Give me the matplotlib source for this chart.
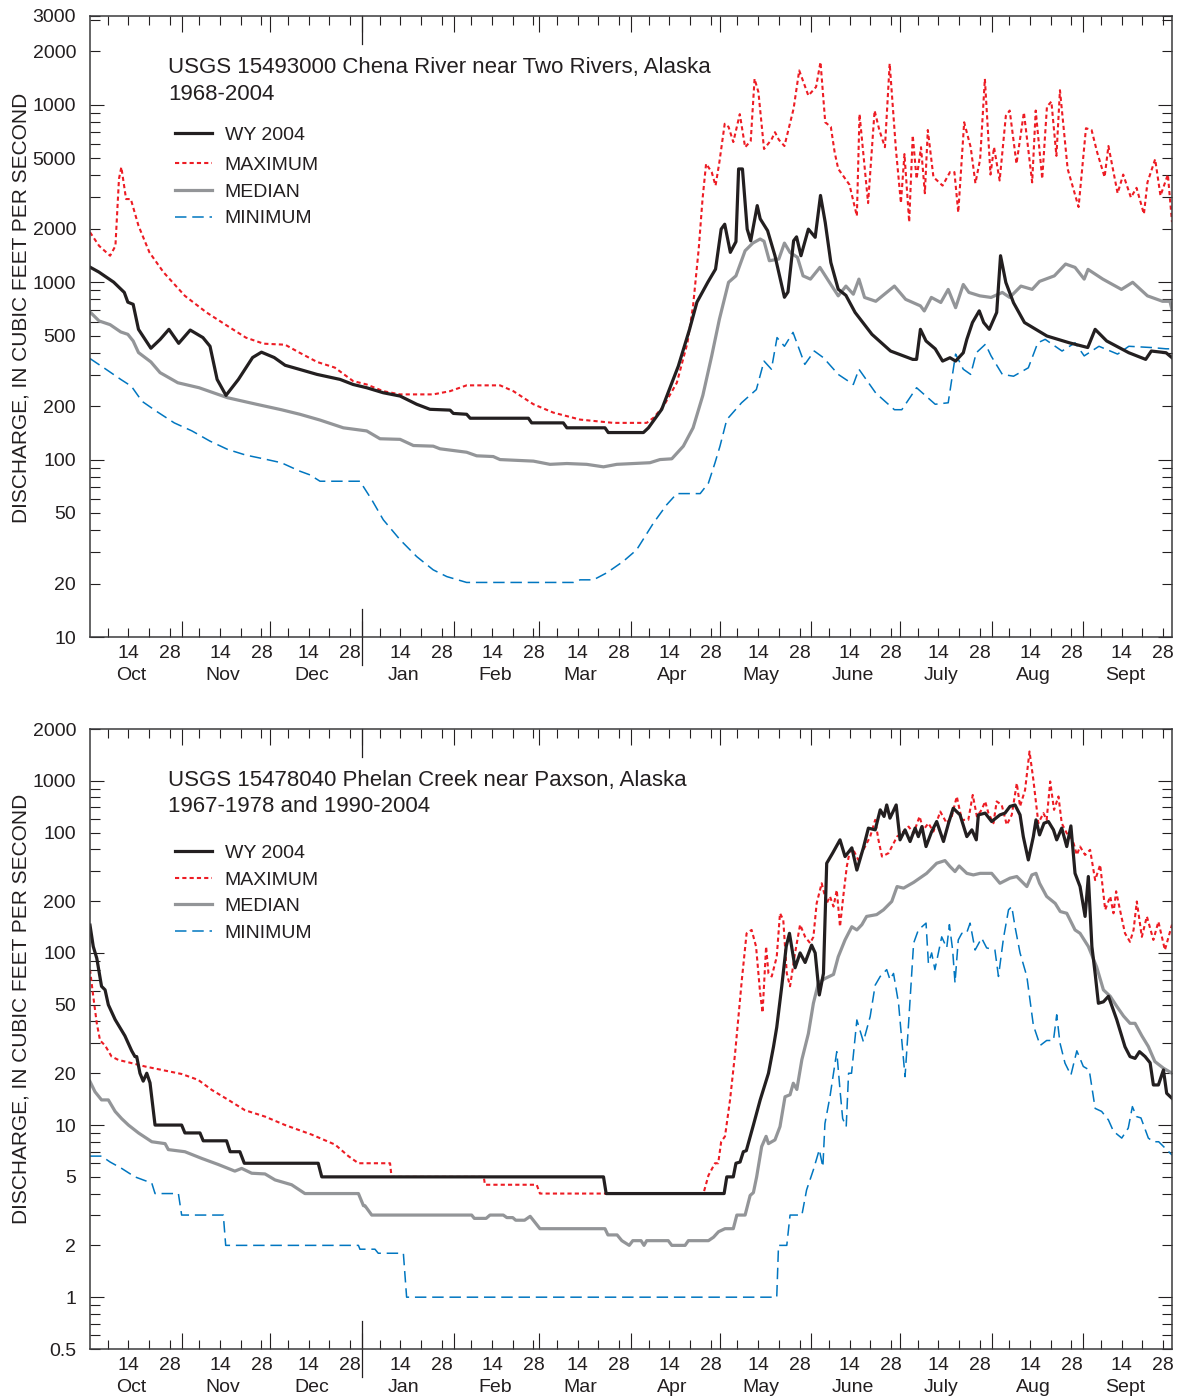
import matplotlib.pyplot as plt
from matplotlib.lines import Line2D
from matplotlib.ticker import FixedLocator, FuncFormatter

plt.rcParams['font.family'] = ['Liberation Sans', 'DejaVu Sans']

# days are counted from 1 Oct 2003 (water year 2004, 366 days)
month_names = ['Oct', 'Nov', 'Dec', 'Jan', 'Feb', 'Mar', 'Apr', 'May', 'June', 'July', 'Aug', 'Sept']
month_start = [0, 31, 61, 92, 123, 152, 183, 213, 244, 274, 305, 336]

# ---- USGS 15493000 Chena River near Two Rivers
chena_wy_day = [0, 3, 8, 11.6, 12.8, 14.6, 16.4, 20.6, 23.7, 26.7, 30, 33.9, 38.2, 40.6, 43, 46, 50.2, 55, 58,
                62.3, 66, 70.7, 76.8, 84.6, 89, 93.6, 99.2, 104.9, 110.5, 115, 121.8, 122.9, 127.4, 128.6, 148.3,
                149.4, 160.1, 161.3, 174.2, 175.3, 187.2, 188.9, 193.4, 196.8, 199, 202.8, 205.3, 209, 211.6, 213.5,
                214.7, 216.6, 218.5, 219.4, 220.7, 222.3, 223.5, 225.7, 226.7, 229.2, 231.7, 234.9, 236.1, 238, 239,
                240.5, 243, 245.3, 247.1, 248.7, 250.6, 253.1, 255.7, 258.8, 264.5, 270.8, 278.3, 279.6, 280.9,
                282.8, 285.9, 288.4, 290.9, 292.8, 295.4, 296.6, 298.5, 300.8, 302.3, 304.2, 306.7, 308, 309.8,
                312.4, 316.1, 323.7, 331.3, 337.5, 340, 343.9, 351.4, 357.1, 359, 364, 366]
chena_wy_cfs = [1215, 1140, 1000, 875, 771, 750, 542, 424, 475, 542, 452, 537, 487, 435, 283, 230, 283, 376, 403,
                376, 340, 323, 302, 283, 265, 254, 238, 228, 205, 192, 190, 182, 180, 171, 171,
                161, 161, 151, 151, 142, 142, 151, 192, 270, 336, 542, 771, 1000, 1184, 1990,
                2120, 1472, 1690, 4345, 4345, 1990, 1710, 2700, 2275, 1950, 1409, 822, 880, 1710, 1800,
                1409, 1990, 1790, 3080, 2170, 1290, 912, 842, 675, 508, 409, 367, 367, 542,
                466, 421, 359, 375, 359, 400, 476, 592, 689, 592, 542, 675, 1409, 995,
                765, 592, 497, 455, 428, 542, 466, 400, 367, 409, 400, 375]

chena_max_day = [0, 3.1, 6.8, 8.6, 9.8, 10.6, 12.2, 13.8, 16.4, 20.1, 24.9, 32.1, 39.4, 46.6, 52.7, 58.7, 66, 70.8,
                 76.8, 82.8, 89, 93.6, 99.2, 104.9, 116.1, 121.8, 127.4, 138.7, 143.2, 150, 156.7, 165.8, 177,
                 188.3, 190.6, 194, 198.5, 202.1, 204, 205.9, 207.2, 208.4, 210.3, 211.6, 212.9, 214.7, 216,
                 217.6, 219.8, 221.6, 223.5, 224.8, 226.1, 228, 230.5, 231.7, 233, 234.9, 238, 239.9, 243, 245.6,
                 247.1, 248.7, 250.6, 251.9, 253.1, 256.9, 259.4, 260.3, 263.2, 265.4, 267, 268.9, 270.5, 272.6,
                 274.3, 275.5, 277.1, 278.3, 279.6, 281.1, 282.4, 283.4, 285.3, 288.4, 290.9, 292.4, 293.7, 295.7,
                 297.9, 299.5, 301.1, 302.7, 304.6, 305.8, 307.7, 309.8, 311.1, 313.4, 315.9, 318.7, 319.9, 322.1,
                 323.7, 325.2, 326.9, 328.1, 330.7, 334.4, 336.9, 338.8, 340.7, 343.2, 344.5, 347.6, 349.5, 352.1,
                 354, 356.5, 357.7, 360.3, 362.1, 364.6, 366]
chena_max_cfs = [1910, 1600, 1409, 1600, 3820, 4450, 2940, 2940, 2080, 1472, 1135, 837, 675, 565, 487, 450, 444, 401,
                 355, 330, 277, 265, 243, 233, 233, 243, 262, 262, 243, 205, 184, 168, 161,
                 161, 172, 200, 271, 455, 735, 1537, 2940, 4650, 4170, 3500, 4750, 7810, 7500,
                 6160, 8850, 5760, 6250, 14000, 11770, 5630, 6350, 7000, 6350, 5850, 9500, 15600, 11250, 12600,
                 17400, 7960, 7500, 5380, 4350, 3540, 2360, 8850, 2790, 9270, 7200, 5760, 17050, 5630,
                 2790, 5270, 2180, 6720, 3820, 5760, 3170, 7200, 3910, 3500, 4170, 4170, 2470, 7960,
                 5760, 3610, 4930, 14000, 4040, 5760, 3740, 8660, 9270, 4650, 9050, 3650, 9270, 3820,
                 9750, 10420, 5150, 12070, 4350, 2650, 7370, 7200, 5380, 3910, 5850, 3170, 4040, 3000,
                 3400, 2420, 3650, 4930, 3070, 4040, 2180]

chena_med_day = [0, 3.1, 6.8, 10.4, 12.8, 14.6, 16.4, 20.6, 23.7, 29.7, 36.9, 46.6, 56.3, 64.7, 71, 77.8, 85.7,
                 93.6, 98.1, 104.9, 109.4, 116.1, 118.4, 127.4, 130.8, 136.4, 138.7, 150, 155.6, 161.3, 168, 173.7,
                 178.2, 189.4, 192.8, 196.8, 200.7, 204, 207.3, 210.3, 212.9, 216, 218.5, 221.6, 224.2, 226.7, 228,
                 229.8, 233, 234.9, 236.8, 239.3, 241.2, 243.7, 246.9, 250.6, 253.1, 255.7, 258.2, 260.1, 262,
                 265.8, 272.1, 275.9, 280.9, 282.2, 284.6, 287.8, 290.3, 292.8, 295.4, 297.3, 301, 304.8, 308.6,
                 311.1, 314.9, 318.7, 321.2, 326.2, 330, 333.2, 336.3, 337.6, 342.6, 348.9, 352.7, 357.7, 362.8,
                 365.3, 366]
chena_med_cfs = [679, 604, 576, 524, 508, 466, 401, 355, 309, 271, 254, 223, 205, 191, 180, 167, 151,
                 145, 131, 130, 120, 119, 115, 110, 105, 104, 100, 98, 94, 95, 94, 91,
                 94, 96, 100, 101, 119, 151, 230, 384, 618, 998, 1085, 1503, 1660, 1750, 1700,
                 1320, 1350, 1660, 1470, 1380, 1085, 1040, 1211, 970, 837, 950, 855, 1040, 820,
                 780, 950, 800, 735, 688, 820, 768, 910, 718, 970, 875, 837, 820, 875,
                 820, 950, 910, 1010, 1085, 1265, 1211, 1040, 1180, 1040, 910, 998, 837, 780,
                 780, 700]

chena_min_day = [0, 5.5, 10.4, 14, 17.6, 22.5, 28.5, 34.5, 40.6, 46.6, 52.7, 58.7, 64.7, 71, 74.4, 77.8, 91.3,
                 95.3, 99.2, 104.9, 110.5, 116.1, 120.7, 127.4, 163.5, 165.8, 170.3, 174.8, 180.4, 184.9, 190.6,
                 195.1, 198.5, 206.4, 209.2, 211.4, 213.1, 215.4, 220.4, 225.4, 228, 230.5, 232.4, 234.9, 237.8,
                 241.8, 245, 248.1, 253.1, 258.2, 260.1, 265.8, 272.1, 274.6, 279.6, 285.9, 290.3, 292.8, 295.4,
                 297.9, 299.8, 302.9, 304.8, 308.6, 312.4, 317.4, 320.6, 323.1, 328.8, 333.2, 336.3, 341.3, 347.6,
                 351.4, 359, 364, 366]
chena_min_cfs = [371, 322, 283, 259, 213, 187, 161, 145, 127, 114, 106, 101, 96, 86, 82, 75.5, 75.5,
                 59.4, 45.8, 35.3, 28.4, 23.9, 21.9, 20.3, 20.3, 21, 21, 23, 26.7, 31, 43.9,
                 55.7, 64.3, 64.3, 73.8, 95.7, 119, 168, 209, 248, 359, 323, 487, 435, 521,
                 344, 409, 375, 302, 265, 323, 237, 191, 191, 254, 205, 209, 393, 323,
                 302, 400, 447, 384, 302, 295, 329, 455, 476, 409, 455, 384, 435, 393,
                 435, 428, 421, 421]

# ---- USGS 15478040 Phelan Creek near Paxson
phelan_wy_day = [0, 1.1, 2.3, 3.9, 5.1, 6.2, 8.5, 11.8, 14.1, 15.2, 15.8, 16.9, 18, 19.2, 20.3, 22, 31, 32.1, 37.2,
                 38.3, 46.2, 47.4, 50.7, 52.2, 77.2, 78.4, 173.7, 174.6, 214.5, 215.4, 217.6, 218.5, 219.9, 221,
                 222, 224.4, 226.7, 229.5, 231.2, 232.3, 234, 235.5, 236.6, 238.5, 240.2, 241.9, 244.1, 245.3,
                 246.7, 248.1, 249.2, 251.2, 253.7, 255.4, 257.7, 259.4, 261.6, 263.3, 265.6, 267.3, 268.6, 269.5,
                 270.6, 272.7, 274, 275.7, 277.4, 279.1, 280.2, 281.4, 282.8, 284.7, 286.4, 288.7, 290.4, 292,
                 294.3, 296.6, 298.3, 299.8, 300.5, 302.8, 305, 307.8, 309.5, 311.2, 312.9, 314.6, 315.7, 317.4,
                 319.1, 320, 321.2, 322.7, 324.2, 325.9, 327, 328.7, 330.4, 331.8, 333.2, 334.9, 336.6, 337.7,
                 338.9, 340, 341.1, 342.8, 344.5, 347.3, 350.1, 351.8, 353.5, 355, 356.9, 358.6, 359.7, 361.4,
                 363.1, 364.2, 366]
phelan_wy_cfs = [145, 109, 93, 64, 61, 50, 41, 33, 27, 25, 25, 20, 18, 20, 17.6, 10, 10, 9, 9,
                 8.1, 8.1, 7, 7, 6, 6, 5, 5, 4, 4, 5, 5, 6, 6.1, 7,
                 7.1, 10, 14, 20, 28.5, 37, 64, 109, 130, 82, 100, 88, 111, 100,
                 57, 76, 332, 380, 454, 363, 408, 303, 408, 531, 519, 678, 621, 724,
                 607, 724, 454, 519, 444, 531, 474, 542, 415, 507, 580, 444, 567, 693,
                 634, 474, 519, 454, 634, 649, 580, 634, 649, 710, 724, 634, 474, 347,
                 474, 593, 485, 567, 580, 519, 454, 531, 415, 547, 290, 243, 163, 278,
                 109, 76, 51, 52, 56, 41, 28.5, 25, 24.4, 26.7, 25, 23, 17.1, 17.1,
                 20.9, 15.3, 14.3]

phelan_max_day = [0, 1.1, 2.3, 3.4, 5.1, 7.3, 9.6, 14.1, 18.6, 24.3, 31, 36.6, 41.2, 46.8, 52.4, 59.2, 66, 75,
                  82.9, 87.4, 90.8, 101.5, 102, 133.2, 133.6, 151.1, 152.2, 207.5, 209.2, 211.4, 212.5, 213.5,
                  214.8, 216.5, 218.2, 220.5, 222.1, 223.8, 225.3, 226.7, 227.5, 228.7, 229.5, 230.6, 232.3, 233.4,
                  234.5, 235.7, 236.8, 238.5, 240.2, 241.9, 243.6, 244.7, 245.8, 247.5, 249.2, 250.3, 251.5, 252.6,
                  253.7, 254.8, 256, 257.1, 258.2, 259.9, 261.6, 263.9, 265.6, 266.7, 267.9, 270.1, 273, 275.2,
                  276.9, 278.6, 280.6, 281.9, 283.6, 285.3, 287.6, 289.8, 291.5, 293.2, 294.9, 297.1, 298.6, 300,
                  301.6, 302.8, 303.9, 305.6, 306.7, 308.4, 310.1, 311.8, 313.5, 314.6, 316.3, 317.8, 319.1, 320.8,
                  322.5, 323.6, 324.8, 326.1, 327.6, 328.7, 330.4, 332.4, 333.8, 334.9, 336.6, 338.3, 340, 341.7,
                  343.4, 345.1, 346.2, 347.1, 348.4, 350.1, 351.8, 353, 354.1, 355.8, 357.5, 359.7, 361.4, 363.6,
                  366]
phelan_max_cfs = [80, 56, 39, 31, 29, 25, 23.9, 22.9, 21.9, 20.9, 19.8, 18.3, 16, 14, 12.2, 11.2, 10, 8.8,
                  7.7, 6.6, 6, 6, 5, 5, 4.5, 4.5, 4, 4, 5.1, 6, 6, 8,
                  8.6, 14, 26, 70, 130, 136, 109, 58, 45, 109, 76, 73, 95, 170,
                  156, 76, 64, 100, 146, 124, 114, 124, 194, 254, 194, 213, 186, 232,
                  142, 213, 318, 397, 397, 347, 397, 474, 593, 454, 363, 380, 474, 507,
                  542, 496, 621, 519, 567, 507, 663, 567, 621, 811, 593, 593, 828, 621,
                  678, 759, 649, 567, 759, 724, 555, 634, 968, 710, 885, 1480, 1014, 567,
                  649, 593, 991, 678, 811, 567, 496, 454, 371, 415, 371, 397, 265, 325,
                  178, 213, 170, 228, 178, 130, 116, 136, 199, 124, 163, 119, 152, 104,
                  146]

phelan_med_day = [0, 1.7, 3.9, 6.2, 8.5, 10.7, 13, 16.4, 20.9, 25.4, 26.5, 32.1, 37.8, 43.4, 49, 51.3, 54.7, 59.2,
                  62.6, 68.2, 72.7, 90.8, 92.5, 93, 95.3, 129.1, 130, 134, 135.3, 139.8, 141, 143, 144, 147, 148.9,
                  152.2, 174.2, 175.2, 178.3, 179.9, 182.4, 183.6, 186.4, 187.4, 188.3, 195.6, 196.8, 201.3, 202.4,
                  209.2, 210.9, 212.6, 214.8, 217.6, 218.8, 221.6, 223.3, 224.4, 225.5, 227.2, 228.7, 229.5, 231.7,
                  233.4, 235.1, 236.8, 237.9, 239.1, 240.8, 243, 244.7, 246.4, 248.6, 251.5, 253.1, 255.4, 257.7,
                  259.4, 261.1, 262.7, 266.1, 268.4, 271.2, 273, 275.2, 278.6, 283, 286.4, 289.2, 290.9, 292.6,
                  294, 296.6, 298.8, 301.1, 305, 307.8, 311.2, 313.5, 316.9, 318.6, 320, 321.2, 323.6, 326.5, 328.2,
                  330.4, 333.2, 334.9, 337.7, 340.5, 342.8, 345.1, 347.3, 349.6, 351.8, 353.5, 355.8, 358, 360.2,
                  363.1, 366]
phelan_med_cfs = [17.9, 15.6, 14, 14, 12, 10.9, 10, 9, 8, 7.8, 7.2, 7, 6.4, 5.9, 5.4, 5.6, 5.25, 5.2,
                  4.8, 4.5, 4, 4, 3.4, 3.4, 3, 3, 2.87, 2.87, 3, 3, 2.9, 2.9, 2.8, 2.8, 2.95,
                  2.5, 2.5, 2.3, 2.3, 2.13, 2.0, 2.13, 2.13, 2.0, 2.13, 2.13, 2.0, 2.0, 2.13,
                  2.13, 2.23, 2.4, 2.5, 2.5, 3, 3, 3.9, 4.05, 5, 7.5, 8.6, 7.8, 8.2,
                  9.8, 14.6, 15, 17.5, 16.1, 24, 34, 51, 67, 71, 75, 95, 119, 142,
                  136, 146, 163, 167, 178, 199, 243, 238, 257, 290, 332, 344, 318, 297,
                  320, 290, 284, 290, 290, 254, 272, 278, 243, 284, 290, 254, 213, 194, 174,
                  170, 136, 130, 109, 83, 61, 56, 49, 43, 39, 39, 33, 28.6, 23.4,
                  21.4, 20]

phelan_min_day = [0, 3.9, 6.8, 10.7, 15.2, 20.9, 22, 29.9, 31, 45.1, 45.9, 90.8, 91.3, 96.4, 97.5, 106, 107.1,
                  232.3, 232.9, 235.7, 236.8, 240.8, 242.4, 244.7, 246.7, 247.9, 248.6, 250.3, 252.6, 253.7, 254.6,
                  255.8, 256.6, 257.6, 259.4, 261.6, 263.9, 265.6, 267.3, 269.5, 270.6, 271.8, 273.5, 274.6, 275.7,
                  276.9, 278.6, 280.2, 282.8, 283.6, 284.7, 285.8, 288.1, 289.8, 290.7, 291.8, 292.6, 293.7, 294.9,
                  296.5, 297.7, 299.4, 301.6, 303.3, 306.1, 307.3, 309, 310.7, 311.8, 312.9, 314.6, 316.9, 319.1,
                  321.4, 323.6, 325.9, 327, 328.1, 329.8, 331.8, 333.8, 336, 338, 340, 342.2, 344.5, 346.2, 349,
                  351.2, 352.6, 354, 355.5, 358, 359.7, 361.5, 366]
phelan_min_cfs = [6.6, 6.6, 6.1, 5.6, 5, 4.6, 4, 4, 3, 3, 2, 2, 1.9, 1.9, 1.8, 1.8, 1,
                  1, 2, 2, 3, 3, 4.2, 5.5, 7.2, 5.7, 10.2, 14.6, 26.7, 16, 10.9,
                  9.8, 20, 20, 40.8, 30.5, 42.7, 65, 73, 80, 70, 76, 51, 31, 19.1,
                  39, 114, 136, 149, 87, 100, 80, 124, 107, 146, 104, 67, 119, 130,
                  130, 149, 104, 122, 107, 104, 73, 122, 178, 186, 142, 100, 73, 38,
                  29, 31, 31, 43.7, 30, 22.9, 19.5, 27, 21.9, 20.9, 12.5, 12, 10.7, 9.2, 8.4,
                  9.6, 12.8, 11.2, 11, 8.4, 8, 8, 6.7]

chena_ticks = {10: '10', 20: '20', 50: '50', 100: '100', 200: '200', 500: '500', 1000: '1000',
               2000: '2000', 5000: '5000', 10000: '1000', 20000: '2000', 31623: '3000'}
phelan_ticks = {0.5: '0.5', 1: '1', 2: '2', 5: '5', 10: '10', 20: '20', 50: '50', 100: '100',
                200: '200', 500: '100', 1000: '1000', 2000: '2000'}

INK = '#231f20'
RED = '#ed1c24'
GRAY = '#939598'
BLUE = '#0076c0'

wy_style = dict(color=INK, lw=2.3, solid_joinstyle='round')
max_style = dict(color=RED, lw=1.5, dashes=(2.0, 1.5))
med_style = dict(color=GRAY, lw=2.3, solid_joinstyle='round')
min_style = dict(color=BLUE, lw=1.1, dashes=(7.5, 3.8))


def label_for(table):
    def fmt(v, pos):
        for key, txt in table.items():
            if abs(v - key) / key < 1e-3:
                return txt
        return ''
    return FuncFormatter(fmt)


def week_label(v, pos):
    d = int(round(v))
    start = max(m for m in month_start if m <= d)
    return {13: '14', 27: '28'}.get(d - start, '')


def draw_panel(ax, series, lims, ticks, title, period, h_px, leg_y):
    mn, md, mx, wy = series
    ax.plot(mn[0], mn[1], **min_style)
    ax.plot(md[0], md[1], **med_style)
    ax.plot(mx[0], mx[1], **max_style)
    ax.plot(wy[0], wy[1], **wy_style)

    ax.set_yscale('log')
    ax.set_ylim(*lims)
    ax.set_xlim(0, 366)

    # y ticks: long at decades, short at 2..9
    decades = [d for d in (0.1, 1, 10, 100, 1000, 10000) if lims[0] <= d <= lims[1]]
    minors = []
    for d in (0.1, 1, 10, 100, 1000, 10000):
        for k in range(2, 10):
            v = d * k
            if lims[0] * 0.999 <= v <= lims[1] * 1.001 and v not in decades:
                minors.append(v)
    minors += [k for k in ticks if k not in decades and k not in minors]
    ax.yaxis.set_major_locator(FixedLocator(decades))
    ax.yaxis.set_minor_locator(FixedLocator(sorted(minors)))
    ax.yaxis.set_major_formatter(label_for(ticks))
    ax.yaxis.set_minor_formatter(label_for(ticks))

    # x ticks: months long, weeks short, 14 and 28 labelled
    weeks = [m + k for m in month_start for k in (6, 13, 20, 27)]
    ax.xaxis.set_major_locator(FixedLocator(month_start[1:]))
    ax.xaxis.set_minor_locator(FixedLocator(weeks))
    ax.xaxis.set_major_formatter(FuncFormatter(lambda v, p: ''))
    ax.xaxis.set_minor_formatter(FuncFormatter(week_label))

    ax.tick_params(axis='both', which='both', direction='in', top=True, right=True,
                   colors=INK, labelsize=14, width=0.8)
    ax.tick_params(axis='x', which='major', length=11.5)
    ax.tick_params(axis='x', which='minor', length=6.5, pad=5.5)
    ax.tick_params(axis='y', which='major', length=10, pad=10)
    ax.tick_params(axis='y', which='minor', length=7, pad=10)
    for s in ax.spines.values():
        s.set_linewidth(1.1)
        s.set_color('#3a3a3c')

    # calendar year boundary (1 Jan)
    jan = month_start[3]
    off = 28 / h_px
    ax.plot([jan, jan], [-off, off], transform=ax.get_xaxis_transform(), color=INK, lw=0.9, clip_on=False)
    ax.plot([jan, jan], [1 - off, 1], transform=ax.get_xaxis_transform(), color=INK, lw=0.9, clip_on=False)

    for name, m in zip(month_names, month_start):
        ax.text(m + 14, -39 / h_px, name, transform=ax.get_xaxis_transform(),
                ha='center', va='center', fontsize=14, color=INK)

    ax.text(0.0721, 1 - 52 / h_px, title, transform=ax.transAxes, fontsize=16, color=INK, va='center')
    ax.text(0.0721, 1 - 78 / h_px, period, transform=ax.transAxes, fontsize=16, color=INK, va='center')

    h_wy = Line2D([], [], **wy_style)
    h_mx = Line2D([], [], **max_style)
    h_md = Line2D([], [], **med_style)
    h_mn = Line2D([], [], **min_style)
    common = dict(frameon=False, fontsize=14, handlelength=1.9, handletextpad=0.65,
                  borderpad=0, borderaxespad=0, loc='center left', labelcolor=INK)
    leg1 = ax.legend([h_wy], ['WY 2004'], bbox_to_anchor=(0.0786, leg_y[0]), **common)
    ax.add_artist(leg1)
    ax.legend([h_mx, h_md, h_mn], ['MAXIMUM', 'MEDIAN', 'MINIMUM'],
              bbox_to_anchor=(0.0786, leg_y[1]), labelspacing=0.46, **common)


fig = plt.figure(figsize=(11.78, 13.99), dpi=100)
ax1 = fig.add_axes([90 / 1178, 1 - 637 / 1399, 1082 / 1178, 621 / 1399])
ax2 = fig.add_axes([90 / 1178, 1 - 1349 / 1399, 1082 / 1178, 620 / 1399])

draw_panel(ax1,
           [(chena_min_day, chena_min_cfs), (chena_med_day, chena_med_cfs),
            (chena_max_day, chena_max_cfs), (chena_wy_day, chena_wy_cfs)],
           (10, 31623), chena_ticks,
           'USGS 15493000 Chena River near Two Rivers, Alaska', '1968-2004', 621,
           ((637 - 135) / 621, (637 - 192) / 621))
draw_panel(ax2,
           [(phelan_min_day, phelan_min_cfs), (phelan_med_day, phelan_med_cfs),
            (phelan_max_day, phelan_max_cfs), (phelan_wy_day, phelan_wy_cfs)],
           (0.5, 2000), phelan_ticks,
           'USGS 15478040 Phelan Creek near Paxson, Alaska', '1967-1978 and 1990-2004', 620,
           ((1349 - 853) / 620, (1349 - 906.5) / 620))

ylab = 'DISCHARGE, IN CUBIC FEET PER SECOND'
fig.text(21 / 1178, 1 - 308 / 1399, ylab, rotation=90, ha='center', va='center', fontsize=15, color=INK)
fig.text(21 / 1178, 1 - 1009 / 1399, ylab, rotation=90, ha='center', va='center', fontsize=15, color=INK)

fig.savefig('out.png', dpi=100)
